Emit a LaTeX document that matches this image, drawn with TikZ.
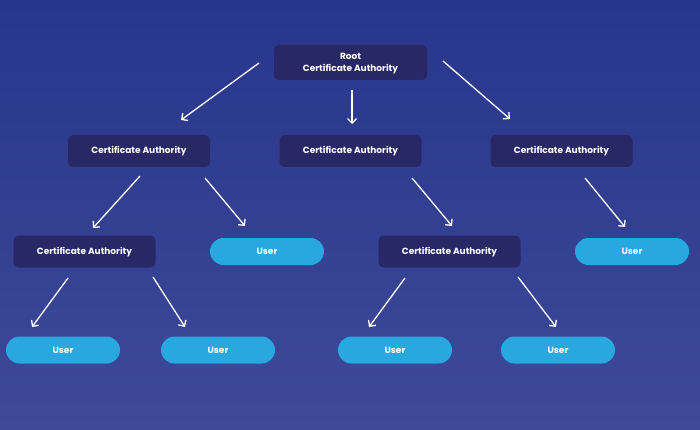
\documentclass[tikz,border=0pt]{standalone}
\usepackage{fontspec}
\setmainfont{Poppins}
\usetikzlibrary{arrows.meta}
\definecolor{bgtop}{RGB}{39,54,140}
\definecolor{bgbot}{RGB}{62,73,152}
\definecolor{cabox}{RGB}{40,40,102}
\definecolor{userbox}{RGB}{41,168,224}
\tikzset{
  lbl/.style={text=white, font=\fontsize{9}{12}\selectfont\bfseries, inner sep=0pt},
  cabx/.style={lbl, fill=cabox, rounded corners=5pt, minimum width=142pt, minimum height=32pt, text height=8.5pt, text depth=2.5pt},
  userbx/.style={lbl, fill=userbox, rounded corners=13.5pt, minimum width=114pt, minimum height=27pt, text height=8.5pt, text depth=2.5pt},
  arr/.style={draw=white, line width=1.3pt, -{Straight Barb[length=4.5pt,width=9pt]}}
}
\begin{document}
\begin{tikzpicture}[x=1pt,y=-1pt]
\shade[top color=bgtop, bottom color=bgbot] (0,0) rectangle (700,430);
\useasboundingbox (0,0) rectangle (700,430);
% nodes
\node[fill=cabox, rounded corners=5pt, minimum width=153pt, minimum height=35pt, inner sep=0pt] (root) at (350.5,62.5) {};
\node[lbl, align=center] (roottext) at ([yshift=-1.5pt]root.center) {Root\\Certificate Authority};
\node[cabx] (ca1) at (139,151) {Certificate Authority};
\node[cabx] (ca2) at (350.5,151) {Certificate Authority};
\node[cabx] (ca3) at (561.5,151) {Certificate Authority};
\node[cabx] (ca4) at (84.5,251.5) {Certificate Authority};
\node[userbx] (u1) at (267,251.5) {User};
\node[cabx] (ca5) at (449.5,251.5) {Certificate Authority};
\node[userbx] (u2) at (632,251.5) {User};
\node[userbx] (u3) at (63,350) {User};
\node[userbx] (u4) at (218,350) {User};
\node[userbx] (u5) at (395,350) {User};
\node[userbx] (u6) at (558,350) {User};
% arrow ends
\coordinate (r1s) at (259,63);  \coordinate (r1e) at (181,120);
\coordinate (r2s) at (352,90);  \coordinate (r2e) at (352,124);
\coordinate (r3s) at (443,61);  \coordinate (r3e) at (510,119);
\coordinate (a1s) at (140,176); \coordinate (a1e) at (93,228);
\coordinate (a2s) at (205,178); \coordinate (a2e) at (245,226);
\coordinate (b1s) at (68,278);  \coordinate (b1e) at (32,327);
\coordinate (b2s) at (153,277); \coordinate (b2e) at (185,327);
\coordinate (c1s) at (412,178); \coordinate (c1e) at (452,226);
\coordinate (d1s) at (585,178); \coordinate (d1e) at (625,227);
\coordinate (e1s) at (405,278); \coordinate (e1e) at (369,327);
\coordinate (e2s) at (518,277); \coordinate (e2e) at (556,327);
\draw[arr] (r1s) -- (r1e);
\draw[arr] (r2s) -- (r2e);
\draw[arr] (r3s) -- (r3e);
\draw[arr] (a1s) -- (a1e);
\draw[arr] (a2s) -- (a2e);
\draw[arr] (b1s) -- (b1e);
\draw[arr] (b2s) -- (b2e);
\draw[arr] (c1s) -- (c1e);
\draw[arr] (d1s) -- (d1e);
\draw[arr] (e1s) -- (e1e);
\draw[arr] (e2s) -- (e2e);
\end{tikzpicture}
\end{document}
